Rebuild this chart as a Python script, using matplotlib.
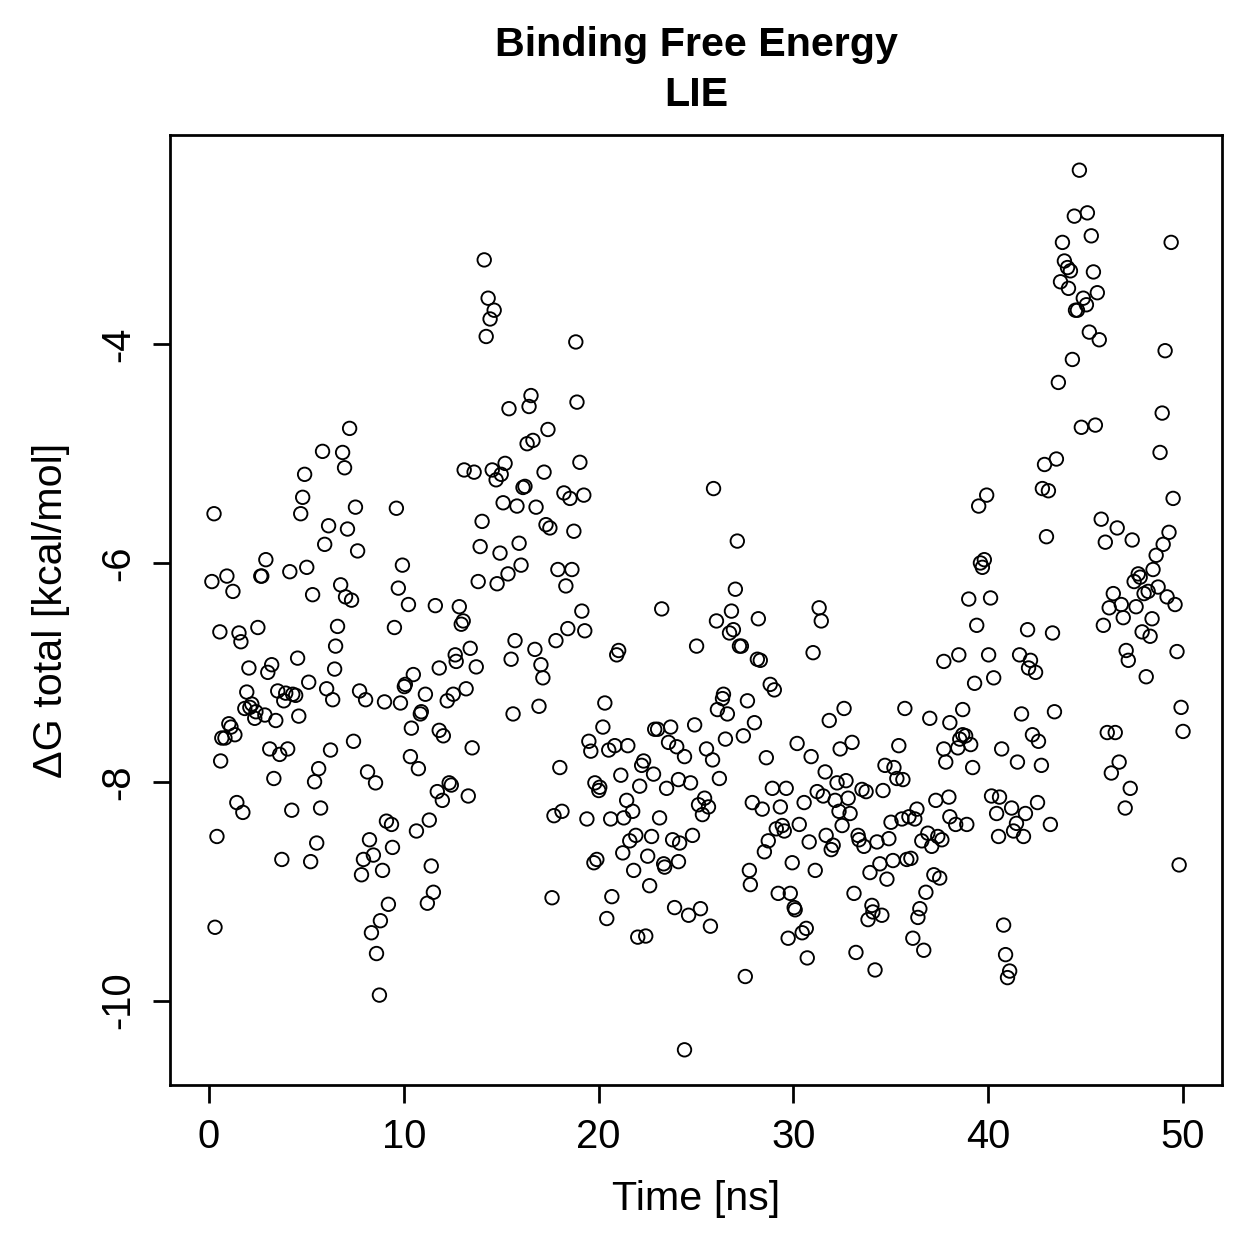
import matplotlib
matplotlib.use("Agg")
import matplotlib.pyplot as plt
import numpy as np

# (time [ns], dG total [kcal/mol]), grouped by region
pts_early_high = [
    (7.22, -4.77), (5.83, -4.98), (6.86, -4.99), (6.96, -5.13), (4.91, -5.19),
    (4.81, -5.40), (4.71, -5.55), (0.26, -5.55), (7.52, -5.49), (9.62, -5.50),
    (6.14, -5.66), (7.11, -5.69),
]

pts_early_mid = [
    (0.15, -6.17), (0.92, -6.12), (1.23, -6.26), (2.92, -5.97), (2.66, -6.12),
    (2.71, -6.12), (4.15, -6.08), (5.02, -6.04), (5.32, -6.29), (5.94, -5.83),
    (7.63, -5.89), (6.76, -6.20), (7.01, -6.31), (7.32, -6.34), (9.93, -6.02),
    (9.72, -6.23), (10.24, -6.38), (11.62, -6.39), (0.56, -6.63), (1.54, -6.64),
    (1.64, -6.72), (2.51, -6.59), (6.60, -6.58), (6.50, -6.76), (9.52, -6.59),
    (2.05, -6.96), (3.22, -6.93), (3.02, -7.00), (4.55, -6.87), (6.45, -6.97),
    (5.12, -7.09), (1.94, -7.18), (3.53, -7.17), (3.94, -7.19), (4.30, -7.20),
    (4.45, -7.21), (3.84, -7.26), (6.04, -7.15), (6.35, -7.25), (7.73, -7.17),
    (8.04, -7.25), (9.01, -7.27), (9.83, -7.28), (10.49, -7.02), (10.08, -7.11),
    (10.03, -7.13), (11.11, -7.20), (10.90, -7.36), (10.85, -7.38), (11.82, -6.96),
    (1.84, -7.33), (2.20, -7.29), (2.10, -7.32), (2.41, -7.36), (2.35, -7.42),
    (2.87, -7.39), (3.43, -7.44), (4.61, -7.40), (1.02, -7.47), (1.13, -7.50),
    (1.33, -7.57), (0.66, -7.60), (0.82, -7.60), (10.39, -7.51), (11.82, -7.53),
    (12.03, -7.58), (0.60, -7.81), (3.12, -7.70), (3.63, -7.75), (4.04, -7.70),
    (6.24, -7.71), (7.42, -7.63), (10.34, -7.77), (10.75, -7.88), (3.33, -7.97),
    (5.63, -7.88), (5.42, -8.00), (8.14, -7.91), (8.55, -8.01), (11.72, -8.09),
    (1.43, -8.19),
]

pts_early_low = [
    (11.98, -8.17), (1.74, -8.28), (4.25, -8.26), (5.73, -8.24), (0.41, -8.50),
    (5.53, -8.56), (3.74, -8.71), (5.22, -8.73), (8.24, -8.53), (9.11, -8.36),
    (9.37, -8.39), (10.65, -8.45), (11.31, -8.35), (9.42, -8.60), (8.44, -8.67),
    (7.93, -8.71), (7.83, -8.85), (8.91, -8.81), (11.41, -8.77), (11.52, -9.01),
    (11.21, -9.11), (9.21, -9.12), (8.80, -9.27), (8.34, -9.38), (8.60, -9.57),
    (8.75, -9.95), (0.31, -9.33),
]

pts_mid_high = [
    (14.13, -3.23), (14.33, -3.58), (14.64, -3.69), (14.43, -3.77), (14.23, -3.93),
    (18.83, -3.98), (16.53, -4.47), (16.43, -4.57), (15.40, -4.59), (18.89, -4.53),
    (17.40, -4.78), (16.63, -4.88), (16.33, -4.91), (19.04, -5.08), (13.10, -5.15),
    (13.61, -5.17), (14.54, -5.15), (15.00, -5.19), (14.74, -5.24), (15.20, -5.09),
    (17.20, -5.17), (16.12, -5.31), (16.22, -5.30), (15.10, -5.45), (15.81, -5.48),
    (16.79, -5.49), (18.22, -5.36), (18.53, -5.41), (19.24, -5.38), (14.02, -5.62),
    (17.30, -5.65), (17.50, -5.68), (18.73, -5.71),
]

pts_mid_mid = [
    (13.92, -5.85), (14.94, -5.91), (15.92, -5.82), (13.82, -6.17), (14.79, -6.19),
    (15.35, -6.10), (16.02, -6.02), (17.91, -6.06), (18.63, -6.06), (18.32, -6.21),
    (12.85, -6.40), (13.05, -6.53), (12.95, -6.56), (19.14, -6.44), (18.42, -6.60),
    (19.29, -6.62), (23.24, -6.42), (15.71, -6.71), (17.81, -6.71), (16.73, -6.79),
    (15.51, -6.88), (17.04, -6.93), (17.14, -7.05), (21.03, -6.80), (20.93, -6.84),
    (13.41, -6.78), (12.64, -6.84), (12.69, -6.90), (13.72, -6.95), (13.20, -7.15),
    (12.54, -7.20), (12.23, -7.26), (20.32, -7.28), (16.94, -7.31), (15.61, -7.38),
    (13.51, -7.69), (20.22, -7.50), (19.50, -7.63), (19.60, -7.72), (20.52, -7.71),
    (20.83, -7.67), (21.50, -7.67), (22.88, -7.52), (23.03, -7.52), (23.70, -7.50),
    (23.59, -7.64), (24.01, -7.68), (18.01, -7.87), (22.21, -7.85), (22.31, -7.81),
    (22.82, -7.93), (21.14, -7.94), (19.81, -8.01), (20.06, -8.05), (20.01, -8.08),
    (22.11, -8.04), (23.49, -8.06), (24.10, -7.98), (12.33, -8.01), (12.44, -8.03),
    (13.31, -8.13), (21.44, -8.17),
]

pts_mid_low = [
    (17.71, -8.31), (18.12, -8.27), (19.40, -8.34), (20.62, -8.34), (21.29, -8.33),
    (21.75, -8.27), (23.13, -8.33), (21.91, -8.49), (21.60, -8.54), (22.72, -8.50),
    (23.80, -8.53), (24.16, -8.56), (21.24, -8.65), (22.52, -8.68), (19.76, -8.74),
    (19.91, -8.71), (21.80, -8.81), (23.34, -8.75), (23.39, -8.78), (24.10, -8.73),
    (22.62, -8.95), (20.68, -9.05), (17.61, -9.06), (20.42, -9.25), (23.90, -9.15),
    (22.01, -9.42), (22.42, -9.41), (24.41, -10.45),
]

pts_late_upper = [
    (25.90, -5.32), (27.12, -5.80), (27.02, -6.24), (26.82, -6.44), (26.05, -6.53),
    (28.20, -6.51), (26.92, -6.61), (26.72, -6.64), (25.03, -6.76), (27.23, -6.76),
    (27.33, -6.76), (28.15, -6.88), (28.30, -6.89), (31.32, -6.41), (31.43, -6.53),
    (31.01, -6.82), (37.72, -6.90), (28.81, -7.11), (29.02, -7.16), (26.41, -7.20),
    (26.36, -7.24), (26.10, -7.34), (26.61, -7.38), (27.64, -7.26), (28.00, -7.46),
    (24.93, -7.48), (26.51, -7.61), (27.43, -7.58), (32.60, -7.33), (31.84, -7.44),
    (35.72, -7.33), (37.00, -7.42), (38.03, -7.46), (30.19, -7.65), (33.01, -7.64),
    (32.40, -7.70), (35.41, -7.67), (37.72, -7.70), (24.41, -7.77), (25.54, -7.70),
    (25.85, -7.80), (28.61, -7.78), (30.91, -7.77), (34.70, -7.85), (35.16, -7.87),
    (37.82, -7.82),
]

pts_late_lower = [
    (24.72, -8.01), (26.20, -7.97), (25.44, -8.15), (25.13, -8.21), (25.64, -8.23),
    (25.33, -8.30), (28.92, -8.06), (29.63, -8.06), (27.89, -8.19), (28.40, -8.25),
    (29.33, -8.23), (30.55, -8.19), (31.63, -7.91), (32.24, -8.01), (32.70, -7.99),
    (31.22, -8.09), (31.53, -8.13), (32.14, -8.17), (32.81, -8.15), (32.34, -8.27),
    (32.91, -8.29), (32.50, -8.40), (30.30, -8.39), (29.12, -8.43), (29.43, -8.40),
    (29.53, -8.45), (28.71, -8.54), (28.51, -8.64), (30.81, -8.55), (31.68, -8.49),
    (32.04, -8.58), (31.94, -8.62), (29.94, -8.74), (31.12, -8.81), (27.74, -8.81),
    (27.79, -8.94), (24.82, -8.49), (33.52, -8.07), (33.73, -8.09), (34.60, -8.08),
    (35.31, -7.97), (35.62, -7.98), (37.31, -8.17), (37.98, -8.14), (38.03, -8.32),
    (35.01, -8.37), (35.57, -8.34), (35.93, -8.32), (36.34, -8.25), (36.23, -8.34),
    (33.32, -8.49), (33.37, -8.53), (33.62, -8.59), (34.29, -8.55), (34.90, -8.52),
    (36.59, -8.54), (36.90, -8.47), (37.10, -8.59), (37.41, -8.50), (37.62, -8.53),
    (34.44, -8.75), (33.93, -8.83), (35.11, -8.72), (35.82, -8.71), (36.03, -8.70),
    (34.80, -8.89), (37.21, -8.85), (37.51, -8.88), (33.11, -9.02), (36.80, -9.01),
    (29.22, -9.02), (29.84, -9.02), (30.04, -9.15), (30.09, -9.17), (34.03, -9.13),
    (34.08, -9.19), (33.83, -9.26), (34.54, -9.22), (36.49, -9.16), (36.39, -9.24),
    (24.62, -9.22), (25.23, -9.16), (25.74, -9.32), (30.45, -9.38), (30.66, -9.34),
    (29.73, -9.43), (36.13, -9.43), (36.69, -9.54), (30.71, -9.61), (33.21, -9.56),
    (34.19, -9.72), (27.53, -9.78),
]

pts_end_mid = [
    (42.89, -5.10), (43.50, -5.05), (39.92, -5.38), (39.51, -5.48), (42.78, -5.32),
    (43.09, -5.34), (42.99, -5.76), (39.60, -6.00), (39.80, -5.97), (39.70, -6.04),
    (39.00, -6.33), (40.12, -6.32), (39.41, -6.57), (42.02, -6.61), (43.30, -6.64),
    (38.49, -6.84), (40.02, -6.84), (41.61, -6.84), (42.17, -6.89), (42.07, -6.96),
    (42.43, -7.00), (39.30, -7.10), (40.28, -7.05), (38.69, -7.34), (41.71, -7.38),
    (43.40, -7.36), (38.69, -7.57), (38.84, -7.58), (38.54, -7.61), (39.10, -7.66),
    (38.44, -7.69), (40.69, -7.70), (42.27, -7.57), (42.58, -7.63), (41.50, -7.82),
    (39.20, -7.87), (42.73, -7.85),
    (45.80, -5.60), (46.62, -5.68), (46.01, -5.81), (47.39, -5.79), (49.49, -5.41),
    (49.28, -5.72), (48.98, -5.83), (48.62, -5.93), (48.46, -6.06), (47.70, -6.10),
    (47.80, -6.13), (47.49, -6.17), (46.42, -6.28), (48.72, -6.22), (48.21, -6.26),
    (48.00, -6.28), (49.18, -6.31), (49.59, -6.38), (46.83, -6.38), (46.21, -6.41),
    (47.59, -6.40), (46.93, -6.50), (48.41, -6.51), (45.91, -6.57), (47.90, -6.63),
    (48.31, -6.67), (47.08, -6.80), (47.19, -6.89), (49.69, -6.81), (48.11, -7.04),
    (49.90, -7.32), (46.11, -7.55), (46.52, -7.55), (50.00, -7.54), (46.72, -7.82),
]

pts_end_low = [
    (38.33, -8.39), (38.90, -8.39), (40.17, -8.13), (40.58, -8.14), (41.20, -8.24),
    (40.43, -8.29), (41.91, -8.29), (42.53, -8.19), (41.45, -8.38), (41.30, -8.45),
    (40.53, -8.50), (41.81, -8.50), (43.19, -8.39), (46.32, -7.92), (47.29, -8.06),
    (47.03, -8.24), (49.80, -8.76), (40.79, -9.31), (40.89, -9.58), (41.10, -9.73),
    (40.99, -9.79),
]

pts_end_high = [
    (44.68, -2.41), (44.42, -2.83), (45.09, -2.80), (45.29, -3.01), (43.81, -3.07),
    (49.39, -3.07), (43.91, -3.24), (44.07, -3.30), (44.22, -3.33), (45.40, -3.34),
    (43.71, -3.43), (44.12, -3.49), (44.88, -3.58), (45.04, -3.64), (45.60, -3.53),
    (44.48, -3.69), (44.58, -3.69), (45.19, -3.89), (45.70, -3.96), (44.32, -4.14),
    (43.60, -4.35), (49.08, -4.06), (44.78, -4.76), (45.50, -4.74), (48.93, -4.63),
    (48.82, -4.99),
]

x_ticks = [0, 10, 20, 30, 40, 50]
y_ticks = [-10, -8, -6, -4]

all_pts = (pts_early_high + pts_early_mid + pts_early_low + pts_mid_high
           + pts_mid_mid + pts_mid_low + pts_late_upper + pts_late_lower
           + pts_end_mid + pts_end_low + pts_end_high)
time_ns = np.array([p[0] for p in all_pts])
dg_total = np.array([p[1] for p in all_pts])

plt.rcParams["font.family"] = ["Liberation Sans", "DejaVu Sans"]
plt.rcParams["axes.unicode_minus"] = False

W = 1259
fig = plt.figure(figsize=(W / 180, W / 180), dpi=180)
ax = fig.add_axes([170 / W, 1 - 1085 / W, (1222 - 170) / W, (1085 - 135) / W])

ax.scatter(time_ns, dg_total, s=29, facecolors="none", edgecolors="black",
           linewidths=0.75)

# R-style 4% padding of the axis range
xr = 50 - 0
ax.set_xlim(0 - 0.04 * xr, 50 + 0.04 * xr)
yr = dg_total.max() - dg_total.min()
ax.set_ylim(dg_total.min() - 0.04 * yr, dg_total.max() + 0.04 * yr)

ax.set_xticks(x_ticks)
ax.set_yticks(y_ticks)
ax.set_yticklabels([str(v) for v in y_ticks], rotation=90, va="center")
ax.tick_params(direction="out", length=7, width=1.1, labelsize=16, pad=6)

for sp in ax.spines.values():
    sp.set_linewidth(1.1)

ax.set_xlabel("Time [ns]", fontsize=16.5, labelpad=10)
ax.set_ylabel("\u0394G total [kcal/mol]", fontsize=16.5, labelpad=12)

fig.text(696 / W, 1 - 45 / W, "Binding Free Energy", ha="center", va="center",
         fontsize=16.5, fontweight="bold")
fig.text(696 / W, 1 - 95 / W, "LIE", ha="center", va="center",
         fontsize=16.5, fontweight="bold")

fig.savefig("out.png", dpi=180)
